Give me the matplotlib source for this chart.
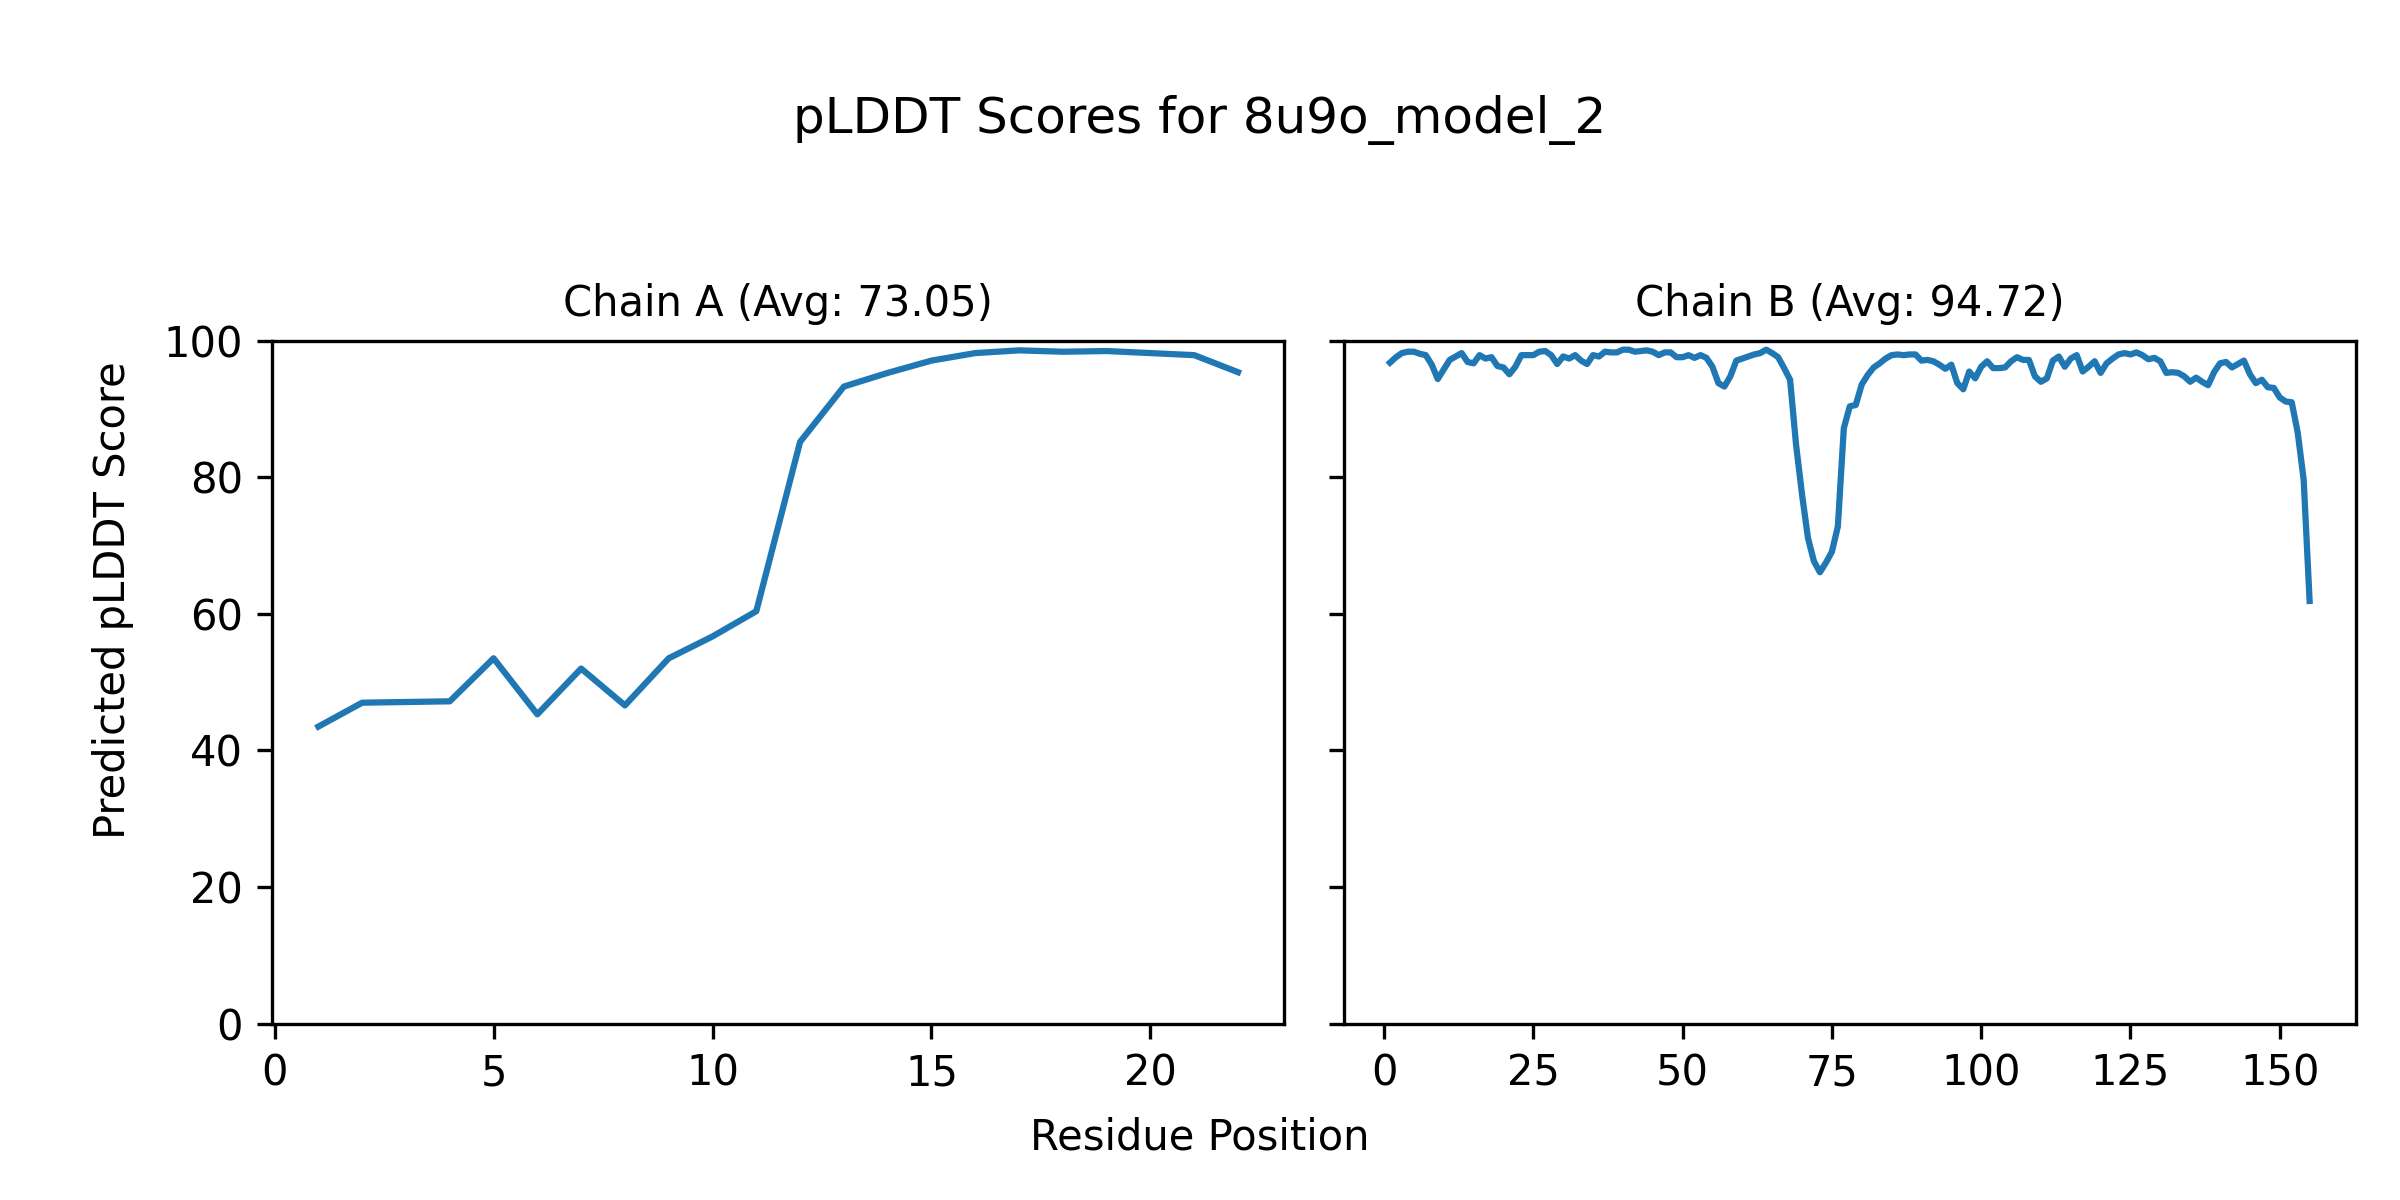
import matplotlib
matplotlib.use("Agg")
import matplotlib.pyplot as plt

model_name = "8u9o_model_2"

chain_a_residues = list(range(1, 23))
chain_a_plddt = [43.5, 47.0, 47.1, 47.2, 53.5, 45.3, 52.0, 46.6, 53.5, 56.7, 60.4,
                 85.2, 93.3, 95.3, 97.1, 98.2, 98.6, 98.4, 98.5, 98.2, 97.9, 95.4]
chain_a_avg = "73.05"

chain_b_residues = list(range(1, 156))
chain_b_plddt = [
    96.8, 97.6, 98.2, 98.4, 98.4, 98.1, 97.9, 96.5, 94.4, 95.8,   # 1-10
    97.2, 97.7, 98.2, 96.9, 96.7, 97.9, 97.4, 97.6, 96.3, 96.1,   # 11-20
    95.1, 96.2, 97.9, 97.9, 97.9, 98.4, 98.5, 97.9, 96.6, 97.7,   # 21-30
    97.4, 97.9, 97.1, 96.6, 97.9, 97.7, 98.4, 98.3, 98.3, 98.7,   # 31-40
    98.7, 98.4, 98.5, 98.6, 98.4, 97.9, 98.3, 98.3, 97.6, 97.6,   # 41-50
    97.9, 97.5, 97.9, 97.5, 96.2, 93.8, 93.3, 94.8, 97.1, 97.4,   # 51-60
    97.7, 98.0, 98.2, 98.7, 98.2, 97.6, 96.0, 94.3, 84.8, 77.5,   # 61-70
    71.1, 67.7, 66.1, 67.5, 69.1, 72.8, 87.2, 90.4, 90.6, 93.6,   # 71-80
    95.0, 96.1, 96.7, 97.4, 97.9, 98.0, 97.9, 98.0, 98.0, 97.1,   # 81-90
    97.2, 97.0, 96.5, 95.9, 96.5, 93.8, 92.9, 95.5, 94.5, 96.2,   # 91-100
    97.0, 96.0, 96.0, 96.1, 97.0, 97.6, 97.2, 97.2, 94.8, 94.0,   # 101-110
    94.5, 97.1, 97.7, 96.2, 97.4, 97.9, 95.5, 96.2, 97.0, 95.3,   # 111-120
    96.7, 97.4, 98.0, 98.2, 98.0, 98.3, 97.9, 97.3, 97.5, 97.0,   # 121-130
    95.3, 95.4, 95.3, 94.8, 94.0, 94.6, 94.0, 93.5, 95.4, 96.7,   # 131-140
    96.9, 96.1, 96.6, 97.1, 95.1, 93.8, 94.3, 93.2, 93.1, 91.7,   # 141-150
    91.1, 91.0, 86.6, 79.7, 61.9,                                 # 151-155
]
chain_b_avg = "94.72"

yticks = [0, 20, 40, 60, 80, 100]

fig, (ax_a, ax_b) = plt.subplots(1, 2, figsize=(8, 4), dpi=300, sharey=True)
fig.subplots_adjust(left=0.1135, right=0.9815, top=0.716, bottom=0.147, wspace=0.0593)

ax_a.plot(chain_a_residues, chain_a_plddt, color="#1f77b4")
ax_a.set_title(f"Chain A (Avg: {chain_a_avg})", fontsize=10)
ax_b.plot(chain_b_residues, chain_b_plddt, color="#1f77b4")
ax_b.set_title(f"Chain B (Avg: {chain_b_avg})", fontsize=10)

ax_a.set_ylim(0, 100)
ax_a.set_yticks(yticks)
for ax in (ax_a, ax_b):
    ax.tick_params(labelsize=10)

fig.suptitle(f"pLDDT Scores for {model_name}", fontsize=12, y=0.90, va="center")
fig.supxlabel("Residue Position", fontsize=10, y=0.0525, va="center")
fig.supylabel("Predicted pLDDT Score", fontsize=10, x=0.047, ha="center")

fig.savefig("out.png", dpi=300)
